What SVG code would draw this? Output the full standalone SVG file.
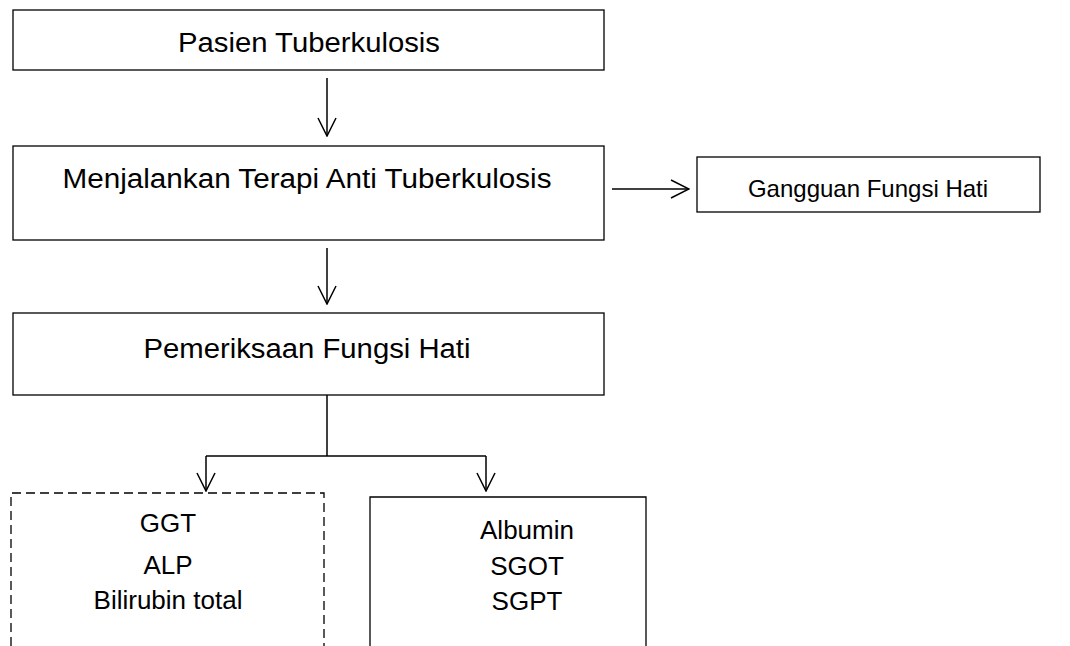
<svg xmlns="http://www.w3.org/2000/svg" width="1070" height="646" viewBox="0 0 1070 646">
<style>
.box{fill:#fff;stroke:#000;stroke-width:1.3}
.dash{fill:#fff;stroke:#000;stroke-width:1.3;stroke-dasharray:9,5}
.t{font-family:"Liberation Sans",Arial,sans-serif;fill:#000;text-anchor:middle}
.big{font-size:27px}
.mid{font-size:24px}
.sm{font-size:26px}
.c{fill:none;stroke:#000;stroke-width:1.5}
</style>
<defs>
<marker id="arr" viewBox="0 0 20 20" refX="19" refY="10" markerWidth="20" markerHeight="20" markerUnits="userSpaceOnUse" orient="auto">
<path d="M1,1 L19,10 L1,19" fill="none" stroke="#000" stroke-width="1.5"/>
</marker>
</defs>
<rect width="1070" height="646" fill="#fff"/>
<g id="connectors">
<line class="c" x1="327" y1="78" x2="327" y2="136" marker-end="url(#arr)"/>
<line class="c" x1="327" y1="248" x2="327" y2="304" marker-end="url(#arr)"/>
<line class="c" x1="612" y1="189" x2="689" y2="189" marker-end="url(#arr)"/>
<polyline class="c" points="327,395 327,456"/>
<polyline class="c" points="206,456 486,456"/>
<line class="c" x1="206" y1="456" x2="206" y2="491" marker-end="url(#arr)"/>
<line class="c" x1="486" y1="456" x2="486" y2="491" marker-end="url(#arr)"/>
</g>
<g id="n1"><rect class="box" x="13" y="10" width="591" height="60"/><text class="t big" x="309" y="52" textLength="262" lengthAdjust="spacingAndGlyphs">Pasien Tuberkulosis</text></g>
<g id="n2"><rect class="box" x="13" y="146" width="591" height="94"/><text class="t big" x="307" y="188" textLength="489" lengthAdjust="spacingAndGlyphs">Menjalankan Terapi Anti Tuberkulosis</text></g>
<g id="n3"><rect class="box" x="697" y="157" width="343" height="55"/><text class="t mid" x="868" y="197">Gangguan Fungsi Hati</text></g>
<g id="n4"><rect class="box" x="13" y="313" width="591" height="82"/><text class="t big" x="307" y="358" textLength="327" lengthAdjust="spacingAndGlyphs">Pemeriksaan Fungsi Hati</text></g>
<g id="n5"><path class="dash" d="M11,646 L11,493 L324,493 L324,646"/><text class="t sm" x="168" y="532">GGT</text><text class="t sm" x="168" y="574">ALP</text><text class="t sm" x="168" y="609">Bilirubin total</text></g>
<g id="n6"><path class="box" d="M370,646 L370,497 L646,497 L646,646"/><text class="t sm" x="527" y="539">Albumin</text><text class="t sm" x="527" y="575">SGOT</text><text class="t sm" x="527" y="610">SGPT</text></g>
</svg>
